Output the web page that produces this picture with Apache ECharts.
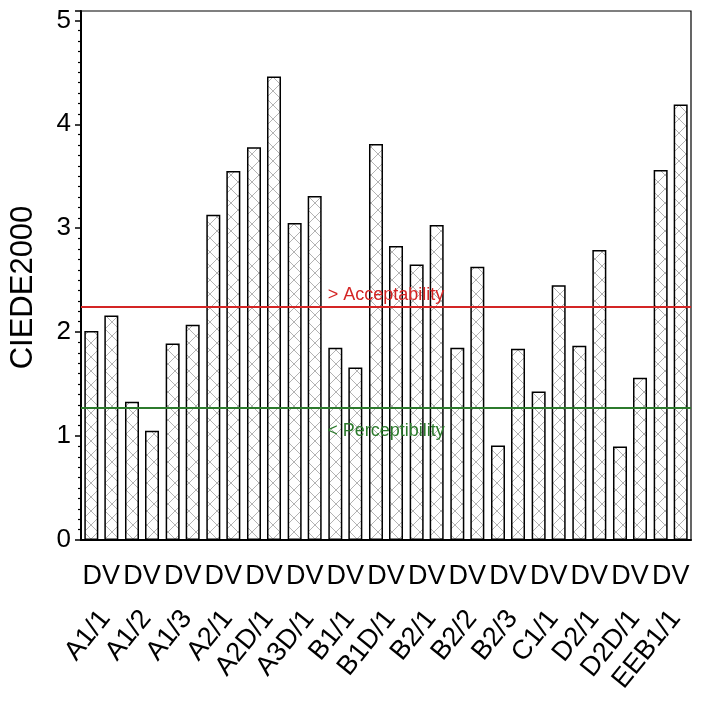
<!DOCTYPE html>
<html>
<head>
<meta charset="utf-8">
<script src="https://cdn.jsdelivr.net/npm/echarts@6/dist/echarts.min.js"></script>
<style>
  html, body { margin: 0; padding: 0; background: #fff; }
  #chart { width: 704px; height: 701px; }
</style>
</head>
<body>
<div id="chart"></div>
<script>
// samples and the two measurement conditions per sample
const samples = ['A1/1', 'A1/2', 'A1/3', 'A2/1', 'A2D/1', 'A3D/1', 'B1/1', 'B1D/1',
  'B2/1', 'B2/2', 'B2/3', 'C1/1', 'D2/1', 'D2D/1', 'EEB1/1']
const valuesD = [2.01, 1.33, 1.89, 3.13, 3.78, 3.05, 1.85, 3.81, 2.65, 1.85, 0.91, 1.43, 1.87, 0.90, 3.56]
const valuesV = [2.16, 1.05, 2.07, 3.55, 4.46, 3.31, 1.66, 2.83, 3.03, 2.63, 1.84, 2.45, 2.79, 1.56, 4.19]
const acceptability = 2.24
const perceptibility = 1.27

const font = 'Liberation Sans, Arial, Helvetica, sans-serif'

// light cross-hatch fill
function hatch () {
  const c = document.createElement('canvas')
  c.width = 14
  c.height = 14
  const ctx = c.getContext('2d')
  ctx.fillStyle = '#fff'
  ctx.fillRect(0, 0, 14, 14)
  ctx.strokeStyle = '#a0a0a0'
  ctx.lineWidth = 0.8
  ctx.beginPath()
  ctx.moveTo(0, 0); ctx.lineTo(14, 14)
  ctx.moveTo(14, 0); ctx.lineTo(0, 14)
  ctx.stroke()
  return c
}
const fill = { image: hatch(), repeat: 'repeat' }

const barStyle = {
  color: fill,
  borderColor: '#000',
  borderWidth: 1.5
}

const chart = echarts.init(document.getElementById('chart'))
chart.setOption({
  animation: false,
  textStyle: { fontFamily: font },
  grid: [
    {
      left: 80,
      right: 13,
      top: 11,
      bottom: 161,
      show: true,
      borderColor: '#000',
      borderWidth: 1.2
    },
    // same size, nudged right: carries the rotated sample names
    { left: 85, right: 8, top: 11, bottom: 161 }
  ],
  xAxis: [
    {
      type: 'category',
      data: samples,
      axisLine: { lineStyle: { color: '#000', width: 2 } },
      axisTick: { show: false },
      axisLabel: {
        interval: 0,
        formatter: () => 'DV',
        fontSize: 27,
        color: '#000',
        margin: 23
      }
    },
    {
      type: 'category',
      gridIndex: 1,
      data: samples,
      position: 'bottom',
      axisLine: { show: false },
      axisTick: { show: false },
      axisLabel: {
        interval: 0,
        rotate: 51,
        fontSize: 27,
        color: '#000',
        margin: 74
      }
    }
  ],
  yAxis: [
    {
      type: 'value',
      min: 0,
      max: 5.09,
      interval: 1,
      name: 'CIEDE2000',
      nameLocation: 'middle',
      nameGap: 42,
      nameTextStyle: { fontSize: 31, color: '#000', padding: [0, 24, 0, 0] },
      axisLine: { show: true, lineStyle: { color: '#000', width: 2 } },
      axisTick: { show: true, length: 6, lineStyle: { color: '#000', width: 1.5 } },
      minorTick: { show: true, splitNumber: 10, length: 3, lineStyle: { color: '#000', width: 1.2 } },
      splitLine: { show: false },
      axisLabel: {
        fontSize: 26,
        color: '#000',
        margin: 10,
        formatter: v => (Math.abs(v - Math.round(v)) < 1e-9 ? String(v) : '')
      }
    },
    { type: 'value', gridIndex: 1, min: 0, max: 5.09, show: false }
  ],
  series: [
    {
      name: 'D',
      type: 'bar',
      data: valuesD,
      barWidth: 14,
      barGap: '43%',
      itemStyle: barStyle,
      markLine: {
        silent: true,
        symbol: 'none',
        data: [
          {
            yAxis: acceptability,
            lineStyle: { color: '#d42525', width: 2, type: 'solid' },
            label: {
              formatter: '> Acceptability',
              position: 'insideMiddleTop',
              color: '#d42525',
              fontSize: 18,
              distance: 3
            }
          },
          {
            yAxis: perceptibility,
            lineStyle: { color: '#2c7a2c', width: 2, type: 'solid' },
            label: {
              formatter: '< Perceptibility',
              position: 'insideMiddleBottom',
              color: '#2c7a2c',
              fontSize: 18,
              distance: 14
            }
          }
        ]
      }
    },
    {
      name: 'V',
      type: 'bar',
      data: valuesV,
      barWidth: 14,
      barGap: '43%',
      itemStyle: barStyle
    }
  ]
})
</script>
</body>
</html>
